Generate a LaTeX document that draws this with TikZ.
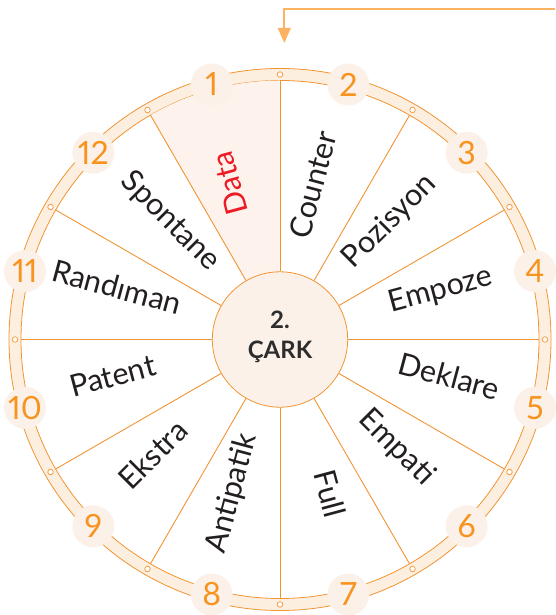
\documentclass[tikz,border=0pt]{standalone}
\usepackage{fontspec}
\setmainfont{Lato}
\newfontfamily\numfont[Numbers=Proportional]{Lato}
\usetikzlibrary{arrows.meta}
\definecolor{org}{RGB}{242,148,50}
\definecolor{numorg}{RGB}{247,147,30}
\definecolor{ringfill}{RGB}{253,239,224}
\definecolor{peach}{RGB}{252,241,233}
\definecolor{sectorfill}{RGB}{253,243,236}
\definecolor{arroworg}{RGB}{251,178,98}
\definecolor{txt}{RGB}{35,31,32}
\definecolor{hubtxt}{RGB}{45,45,45}
\definecolor{datared}{RGB}{237,28,36}
\begin{document}
\begin{tikzpicture}[x=1pt,y=1pt,
  spoke/.style={draw=org, line width=0.9pt},
  ringline/.style={draw=org, line width=0.8pt},
  dotc/.style={circle, draw=org, fill=white, inner sep=0pt, minimum size=5.5pt, line width=0.7pt},
  numc/.style={circle, fill=peach, inner sep=0pt, minimum size=42pt, text=numorg, font=\numfont\fontsize{32}{32}\selectfont},
  lbl/.style={inner sep=0pt, text=txt, text height=0.72em, text depth=0.2em, font=\fontsize{30.5}{30.5}\selectfont},
  hubc/.style={circle, draw=org, fill=peach, line width=0.8pt, inner sep=0pt, minimum size=135.4pt},
  hubt/.style={inner sep=0pt, text=hubtxt, font=\bfseries\fontsize{24}{24}\selectfont},
  flow/.style={draw=arroworg, line width=2pt, -{Triangle[length=15pt,width=12.7pt]}}
]
\useasboundingbox (0,0) rectangle (555,615);
% feed arrow
\coordinate (a0) at (555,606);
\coordinate (a1) at (284.3,606);
\coordinate (a2) at (284.3,572);
\draw[flow] (a0) -- (a1) -- (a2);
\begin{scope}[shift={(280,275.5)}]
  % ring
  \fill[ringfill, even odd rule] (0,0) circle (271) (0,0) circle (259);
  \draw[ringline] (0,0) circle (271) (0,0) circle (259);
  % highlighted sector
  \fill[sectorfill] (0,0) -- (90:259) arc[start angle=90, end angle=120, radius=259] -- cycle;
  % hub
  \node[hubc] (hub) at (0,0) {};
  % spokes and dots
  \foreach \i in {0,...,11} {
    \pgfmathsetmacro{\a}{90-30*\i}
    \coordinate (s\i) at (\a:259);
    \draw[spoke] (hub.\a) -- (s\i);
    \node[dotc] (d\i) at (\a:265) {};
  }
  \node[hubt] (h1) at (0,19.5) {2.};
  \node[hubt] (h2) at (0,-12.5) {ÇARK};
  % numbers
  \foreach \i in {1,...,12} {
    \pgfmathsetmacro{\a}{105-30*(\i-1)}
    \node[numc] (n\i) at (\a:264) {\i};
  }
  % labels
  \node[lbl, rotate=105, text=datared] (l1) at (105:164) {Data};
  \node[lbl, rotate=75] (l2) at (75:158) {Counter};
  \node[lbl, rotate=45] (l3) at (45:161) {Pozisyon};
  \node[lbl, rotate=15] (l4) at (15:168) {Empoze};
  \node[lbl, rotate=-15] (l5) at (-15:173) {Deklare};
  \node[lbl, rotate=-45] (l6) at (-45:159) {Empati};
  \node[lbl, rotate=-75] (l7) at (-75:162) {Full};
  \node[lbl, rotate=75] (l8) at (-105:161) {Antipatik};
  \node[lbl, rotate=45] (l9) at (-135:171) {Ekstra};
  \node[lbl, rotate=15] (l10) at (-165:171) {Patent};
  \node[lbl, rotate=-15] (l11) at (165:171) {Randıman};
  \node[lbl, rotate=-45] (l12) at (135:161) {Spontane};
\end{scope}
\end{tikzpicture}
\end{document}
